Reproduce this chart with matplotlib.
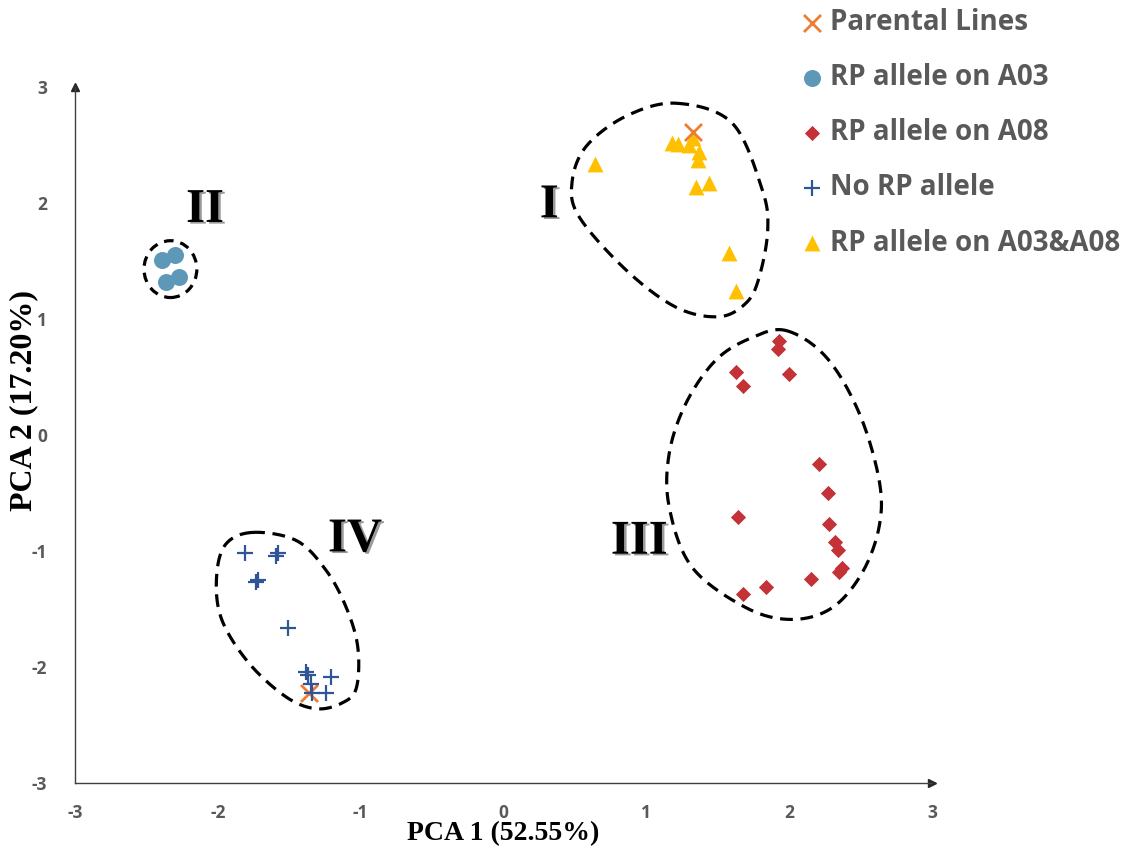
import numpy as np
import matplotlib
matplotlib.use("Agg")
import matplotlib.pyplot as plt
import matplotlib.patheffects as pe
from matplotlib.patches import Ellipse

# ---- PCA scores per genotype group ----
parental_x = [1.33, -1.36]
parental_y = [2.61, -2.22]

a03_x = [-2.39, -2.30, -2.36, -2.27]
a03_y = [1.51, 1.55, 1.32, 1.36]

a08_x = [1.93, 1.92, 1.63, 1.68, 2.00, 2.21, 2.27, 1.64, 2.28, 2.32, 2.34, 2.37, 2.35, 2.15, 1.84, 1.68]
a08_y = [0.81, 0.74, 0.54, 0.42, 0.53, -0.25, -0.50, -0.71, -0.77, -0.92, -0.99, -1.15, -1.18, -1.24, -1.31, -1.37]

none_x = [-1.81, -1.59, -1.58, -1.73, -1.72, -1.51, -1.38, -1.37, -1.21, -1.35, -1.34, -1.24]
none_y = [-1.02, -1.04, -1.02, -1.27, -1.25, -1.66, -2.04, -2.07, -2.09, -2.15, -2.22, -2.22]

both_x = [0.64, 1.18, 1.22, 1.30, 1.33, 1.37, 1.36, 1.35, 1.44, 1.58, 1.63]
both_y = [2.34, 2.52, 2.51, 2.50, 2.56, 2.44, 2.37, 2.14, 2.17, 1.57, 1.24]

group_labels = ["Parental Lines", "RP allele on A03", "RP allele on A08",
                "No RP allele", "RP allele on A03&A08"]
ticks = [-3, -2, -1, 0, 1, 2, 3]

GRAY = "#595959"
C_PAR = "#ED7D31"
C_A03 = "#5E98B8"
C_A08 = "#C33236"
C_NONE = "#2F5597"
C_BOTH = "#FFC000"


def closed_curve(px, py, n=40):
    """Smooth closed Catmull-Rom curve through the given outline points."""
    P = np.column_stack([px, py])
    N = len(P)
    t = np.linspace(0, 1, n, endpoint=False)[:, None]
    segs = []
    for i in range(N):
        p0, p1, p2, p3 = P[(i - 1) % N], P[i], P[(i + 1) % N], P[(i + 2) % N]
        segs.append(0.5 * (2 * p1 + (-p0 + p2) * t
                           + (2 * p0 - 5 * p1 + 4 * p2 - p3) * t ** 2
                           + (-p0 + 3 * p1 - 3 * p2 + p3) * t ** 3))
    out = np.vstack(segs + [P[:1]])
    return out[:, 0], out[:, 1]


fig = plt.figure(figsize=(11.26, 8.48), dpi=100)
ax = fig.add_axes([75 / 1126, 65 / 848, 857 / 1126, 696 / 848])
ax.set_xlim(-3, 3)
ax.set_ylim(-3, 3)

# cluster outlines
dash = dict(color="black", lw=2.3, linestyle=(0, (4, 2.4)), zorder=1)
outline_I = ([1.21, 1.60, 1.81, 1.85, 1.79, 1.70, 1.51, 1.21, 0.86, 0.53, 0.48, 0.58, 0.86],
             [2.86, 2.69, 2.12, 1.77, 1.36, 1.14, 1.02, 1.10, 1.42, 1.88, 2.18, 2.49, 2.75])
outline_III = ([1.98, 2.26, 2.49, 2.63, 2.63, 2.51, 2.30, 2.02, 1.70, 1.32, 1.16, 1.16, 1.28, 1.49, 1.74],
               [0.90, 0.67, 0.19, -0.39, -0.79, -1.19, -1.49, -1.59, -1.49, -1.14, -0.62, -0.16, 0.28, 0.65, 0.84])
outline_IV = ([-1.76, -1.45, -1.24, -1.10, -1.02, -1.03, -1.13, -1.31, -1.52, -1.78, -1.97, -2.01, -1.95],
              [-0.84, -0.91, -1.17, -1.49, -1.83, -2.18, -2.31, -2.36, -2.26, -1.97, -1.60, -1.25, -0.95])
for ox, oy in (outline_I, outline_III, outline_IV):
    cx, cy = closed_curve(ox, oy)
    ax.plot(cx, cy, **dash)
ax.add_patch(Ellipse((-2.332, 1.43), 0.37, 0.49, fill=False, ec="black",
                     lw=2.3, linestyle=(0, (3, 2.2)), zorder=1))

# scatter groups
h_par = ax.scatter(parental_x, parental_y, marker="x", s=150, color=C_PAR, linewidths=2, zorder=3)
h_a03 = ax.scatter(a03_x, a03_y, marker="o", s=150, color=C_A03, linewidths=0, zorder=3)
h_a08 = ax.scatter(a08_x, a08_y, marker="D", s=60, color=C_A08, linewidths=0, zorder=3)
h_none = ax.scatter(none_x, none_y, marker="+", s=140, color=C_NONE, linewidths=1.6, zorder=4)
h_both = ax.scatter(both_x, both_y, marker="^", s=130, color=C_BOTH, linewidths=0, zorder=2)

# cluster numerals with a soft drop shadow
num_font = dict(family="Liberation Serif", weight="bold", fontsize=35, color="black",
                ha="center", va="center",
                path_effects=[pe.SimplePatchShadow(offset=(1.8, -1.2), shadow_rgbFace="#9a9a9a", alpha=1),
                              pe.Normal()])
ax.text(0.32, 1.98, "I", **num_font)
ax.text(-2.09, 1.94, "II", **num_font)
ax.text(0.95, -0.92, "III", **num_font)
ax.text(-1.04, -0.90, "IV", **num_font)

# axes styling
for side in ("top", "right"):
    ax.spines[side].set_visible(False)
for side in ("left", "bottom"):
    ax.spines[side].set_color("#404040")
    ax.spines[side].set_linewidth(1.0)
ax.plot([0], [1], marker="^", ms=6, color="#262626", transform=ax.transAxes, clip_on=False)
ax.plot([1], [0], marker=">", ms=6, color="#262626", transform=ax.transAxes, clip_on=False)

ax.set_xticks(ticks)
ax.set_yticks(ticks)
ax.set_xticklabels([str(t) for t in ticks])
ax.set_yticklabels([str(t) for t in ticks])
ax.tick_params(length=0, labelsize=12.5, labelcolor=GRAY)
ax.tick_params(axis="x", pad=15)
ax.tick_params(axis="y", pad=20)
for lab in ax.get_xticklabels() + ax.get_yticklabels():
    lab.set_fontfamily("Open Sans")
    lab.set_fontweight("bold")

ax.set_xlabel("PCA 1 (52.55%)", family="Liberation Serif", weight="bold", fontsize=20, va="center")
ax.xaxis.set_label_coords(0.5, -0.072)
ax.set_ylabel("PCA 2 (17.20%)", family="Liberation Serif", weight="bold", fontsize=23, va="center")
ax.yaxis.set_label_coords(-0.06, 0.55)

leg = fig.legend([h_par, h_a03, h_a08, h_none, h_both], group_labels,
                 loc="upper left", bbox_to_anchor=(787 / 1126, 1.0 + 3 / 848), frameon=False,
                 prop=dict(family="Open Sans", weight="bold", size=20),
                 labelspacing=0.94, handletextpad=0.15, handlelength=1.0,
                 borderaxespad=0.0)
for t in leg.get_texts():
    t.set_color(GRAY)

fig.savefig("out.png", dpi=100)
